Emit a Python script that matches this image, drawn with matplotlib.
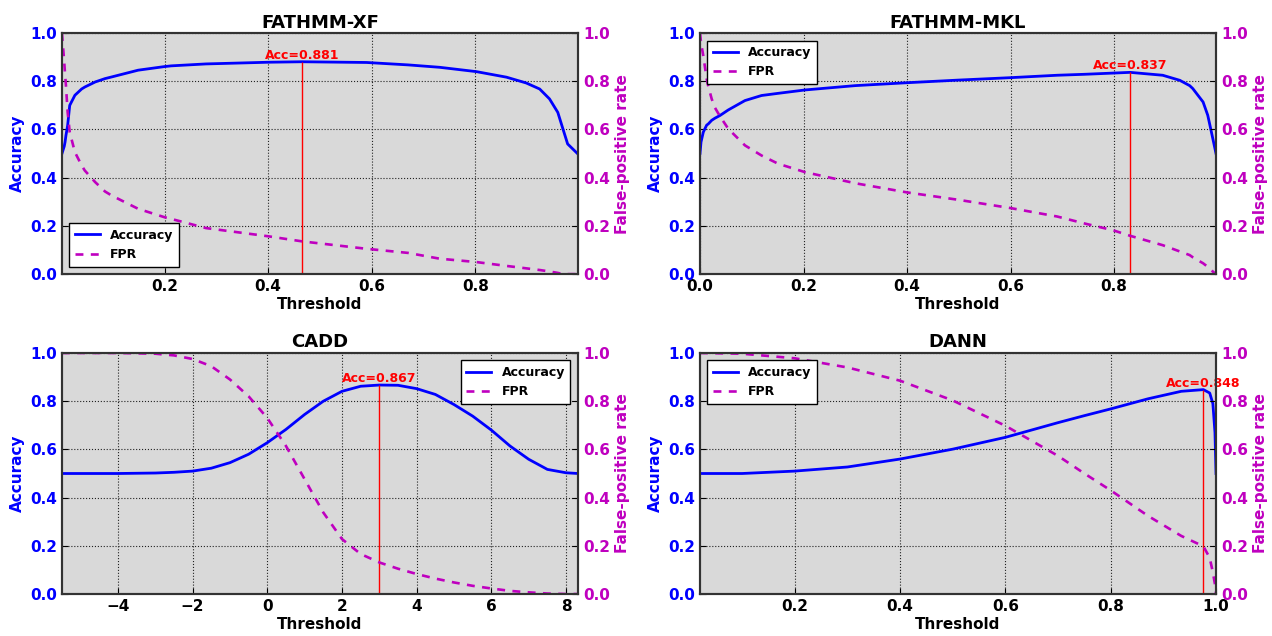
import numpy as np
import matplotlib
matplotlib.use("Agg")
import matplotlib.pyplot as plt

plt.rcParams['font.family'] = ['DejaVu Sans']
plt.rcParams['font.weight'] = 'bold'
plt.rcParams['axes.labelweight'] = 'bold'
plt.rcParams['axes.titleweight'] = 'bold'

# ---- FATHMM-XF ----
xf_thr = [0.002, 0.0064, 0.008, 0.0097, 0.013, 0.017, 0.027, 0.040, 0.046, 0.066, 0.085,
          0.098, 0.149, 0.2, 0.213, 0.28, 0.4, 0.465, 0.59, 0.67, 0.731, 0.802, 0.860,
          0.898, 0.924, 0.943, 0.959, 0.969, 0.978, 0.998]
xf_acc = [0.50, 0.53, 0.548, 0.575, 0.617, 0.70, 0.742, 0.768, 0.776, 0.797, 0.811,
          0.818, 0.846, 0.861, 0.864, 0.872, 0.879, 0.881, 0.878, 0.868, 0.858, 0.840,
          0.817, 0.793, 0.768, 0.727, 0.671, 0.602, 0.540, 0.498]
xf_fpr = [1.0, 0.88, 0.83, 0.783, 0.672, 0.589, 0.506, 0.451, 0.43, 0.382, 0.343,
          0.326, 0.271, 0.236, 0.229, 0.191, 0.157, 0.136, 0.105, 0.088, 0.064, 0.05,
          0.034, 0.024, 0.017, 0.011, 0.005, 0.0, 0.0, 0.0]
xf_best = (0.465, 0.881)

# ---- FATHMM-MKL ----
mkl_thr = [0.0, 0.002, 0.0064, 0.0129, 0.016, 0.0226, 0.029, 0.0386, 0.0546, 0.0869, 0.119,
           0.151, 0.203, 0.3, 0.4, 0.5, 0.6, 0.69, 0.743, 0.798, 0.831, 0.894, 0.927,
           0.946, 0.952, 0.972, 0.981, 0.988, 0.991, 0.997]
mkl_acc = [0.50, 0.548, 0.589, 0.618, 0.623, 0.638, 0.647, 0.658, 0.681, 0.72, 0.741,
           0.75, 0.764, 0.782, 0.794, 0.805, 0.815, 0.825, 0.829, 0.834, 0.837, 0.825,
           0.804, 0.782, 0.77, 0.714, 0.659, 0.59, 0.56, 0.50]
mkl_fpr = [1.0, 0.96, 0.906, 0.81, 0.78, 0.727, 0.69, 0.655, 0.603, 0.534, 0.492,
           0.458, 0.423, 0.377, 0.339, 0.308, 0.274, 0.239, 0.21, 0.182, 0.159, 0.12,
           0.094, 0.079, 0.07, 0.045, 0.03, 0.018, 0.01, 0.0]
mkl_best = (0.831, 0.837)

# ---- CADD ----
cadd_thr = [-5.5, -4, -3, -2.5, -2, -1.5, -1, -0.5, 0, 0.5, 1, 1.5, 2, 2.5, 3, 3.5, 4, 4.5,
            5, 5.5, 6, 6.5, 7, 7.5, 8, 8.32]
cadd_acc = [0.50, 0.50, 0.502, 0.505, 0.51, 0.522, 0.545, 0.58, 0.628, 0.683, 0.745, 0.80,
            0.841, 0.862, 0.867, 0.866, 0.852, 0.828, 0.786, 0.738, 0.680, 0.614, 0.559,
            0.517, 0.503, 0.50]
cadd_fpr = [1.0, 1.0, 0.997, 0.99, 0.975, 0.945, 0.89, 0.82, 0.73, 0.614, 0.476, 0.338,
            0.228, 0.166, 0.131, 0.105, 0.083, 0.064, 0.048, 0.034, 0.023, 0.013, 0.007,
            0.002, 0.0, 0.0]
cadd_best = (3.0, 0.867)

# ---- DANN ----
dann_thr = [0.02, 0.1, 0.2, 0.3, 0.4, 0.5, 0.6, 0.7, 0.75, 0.8, 0.871, 0.934, 0.976, 0.988,
            0.994, 0.998, 1.0]
dann_acc = [0.50, 0.50, 0.51, 0.527, 0.56, 0.601, 0.65, 0.711, 0.74, 0.768, 0.81, 0.841,
            0.848, 0.834, 0.79, 0.67, 0.50]
dann_fpr = [1.0, 0.997, 0.978, 0.94, 0.885, 0.803, 0.698, 0.573, 0.50, 0.43, 0.324, 0.241,
            0.198, 0.15, 0.09, 0.04, 0.0]
dann_best = (0.976, 0.848)

panels = [
    ("FATHMM-XF", xf_thr, xf_acc, xf_fpr, xf_best, (0.002, 0.998), 'lower left'),
    ("FATHMM-MKL", mkl_thr, mkl_acc, mkl_fpr, mkl_best, (0.0, 0.997), 'upper left'),
    ("CADD", cadd_thr, cadd_acc, cadd_fpr, cadd_best, (-5.5, 8.32), 'upper right'),
    ("DANN", dann_thr, dann_acc, dann_fpr, dann_best, (0.02, 1.0), 'upper left'),
]

blue = '#0000ff'
mag = '#bf00bf'

fig = plt.figure(figsize=(12.72, 6.36), dpi=100)
lefts = [0.0487, 0.5503]
bottoms = [0.569, 0.066]
w, h = 0.4057, 0.379

for i, (name, thr, acc, fpr, best, xlim, loc) in enumerate(panels):
    ax = fig.add_axes([lefts[i % 2], bottoms[i // 2], w, h])
    ax.set_facecolor('#d9d9d9')
    l1, = ax.plot(thr, acc, color=blue, lw=2, label='Accuracy')
    ax.vlines(best[0], 0, best[1], color='red', lw=1)
    ax.text(best[0], best[1], 'Acc=%.3f' % best[1], color='red', fontsize=9,
            fontweight='bold', ha='center', va='bottom')
    ax.set_xlim(xlim)
    ax.set_ylim(0, 1)
    ax.set_yticks(np.arange(0, 1.01, 0.2))
    ax.grid(True, color='#222222', linestyle=':', lw=0.8)
    ax.set_axisbelow(True)
    ax.tick_params(direction='in', labelsize=11, length=4)
    ax.tick_params(axis='y', labelcolor=blue)
    for lab in ax.get_xticklabels() + ax.get_yticklabels():
        lab.set_fontweight('bold')
    ax.set_xlabel('Threshold', fontsize=11, labelpad=2)
    ax.set_ylabel('Accuracy', fontsize=11, color=blue, labelpad=4)
    ax.set_title(name, fontsize=13, pad=4)

    ax2 = ax.twinx()
    l2, = ax2.plot(thr, fpr, color=mag, lw=1.9, ls=(0, (3, 2.8)), label='FPR')
    ax2.set_ylim(0, 1)
    ax2.set_yticks(np.arange(0, 1.01, 0.2))
    ax2.tick_params(direction='in', labelsize=11, length=4, labelcolor=mag)
    for lab in ax2.get_yticklabels():
        lab.set_fontweight('bold')
    ax2.set_ylabel('False-positive rate', fontsize=11, color=mag, labelpad=4)
    for a in (ax, ax2):
        for s in a.spines.values():
            s.set_color('#333333')
            s.set_linewidth(1.5)

    leg = ax2.legend([l1, l2], ['Accuracy', 'FPR'], loc=loc,
                     fancybox=False, framealpha=1, edgecolor='black',
                     prop={'weight': 'bold', 'size': 9}, borderaxespad=0.6,
                     handlelength=2.0, borderpad=0.45)
    leg.get_frame().set_linewidth(1.0)

fig.savefig('out.png', dpi=100)
